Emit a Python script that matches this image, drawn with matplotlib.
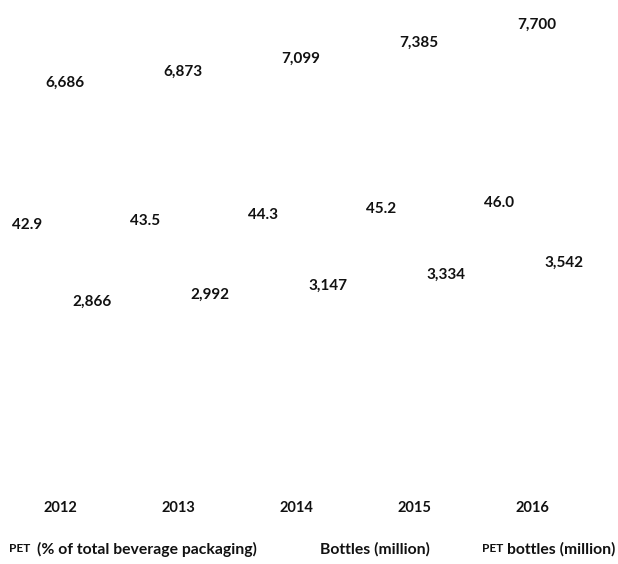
import matplotlib.pyplot as plt
import numpy as np

plt.rcParams['font.family'] = ['Lato', 'DejaVu Sans']

years = ['2012', '2013', '2014', '2015', '2016']
pet_share = [42.9, 43.5, 44.3, 45.2, 46.0]
bottles = [6686, 6873, 7099, 7385, 7700]
pet_bottles = [2866, 2992, 3147, 3334, 3542]


def fmt_thousands(vals):
    return ['{:,}'.format(v) for v in vals]


fig = plt.figure(figsize=(6.18, 5.64), dpi=100)
ax = fig.add_axes([0, 70 / 564, 1, 494 / 564])
ax2 = ax.twinx()

x = np.arange(len(years))
w = 0.25

# bars are invisible in the source, only the value labels remain
b1 = ax2.bar(x - 0.28, pet_share, w, color='none', linewidth=0)
b2 = ax.bar(x + 0.04, bottles, w, color='none', linewidth=0)
b3 = ax.bar(x + 0.27, pet_bottles, w, color='none', linewidth=0)

lab = dict(fontsize=11, fontweight='bold', color='#111111', padding=3)
ax2.bar_label(b1, labels=['%.1f' % v for v in pet_share], **lab)
ax.bar_label(b2, labels=fmt_thousands(bottles), **lab)
ax.bar_label(b3, labels=fmt_thousands(pet_bottles), **lab)

ax.set_xlim(-60 / 118, 558 / 118)
ax.set_ylim(-297, 8325)
ax2.set_ylim(6.6, 76.2)

ax.set_xticks(x)
ax.set_xticklabels(years, fontsize=10.5, fontweight='bold', color='#111111')
ax.tick_params(axis='x', length=0, pad=5)
ax.tick_params(axis='y', left=False, labelleft=False)
ax2.tick_params(axis='y', right=False, labelright=False)
for a in (ax, ax2):
    for s in a.spines.values():
        s.set_visible(False)

# legend row (no visible swatches)
ly = 15 / 564
fs = 11.3
fig.text(9 / 618, ly, 'PET', fontsize=8.5, fontweight='bold', va='center', color='#111111')
fig.text(37 / 618, ly, '(% of total beverage packaging)', fontsize=fs, fontweight='bold', va='center', color='#111111')
fig.text(320 / 618, ly, 'Bottles (million)', fontsize=fs, fontweight='bold', va='center', color='#111111')
fig.text(482 / 618, ly, 'PET', fontsize=8.5, fontweight='bold', va='center', color='#111111')
fig.text(507 / 618, ly, 'bottles (million)', fontsize=fs, fontweight='bold', va='center', color='#111111')

fig.savefig('out.png', dpi=100)
